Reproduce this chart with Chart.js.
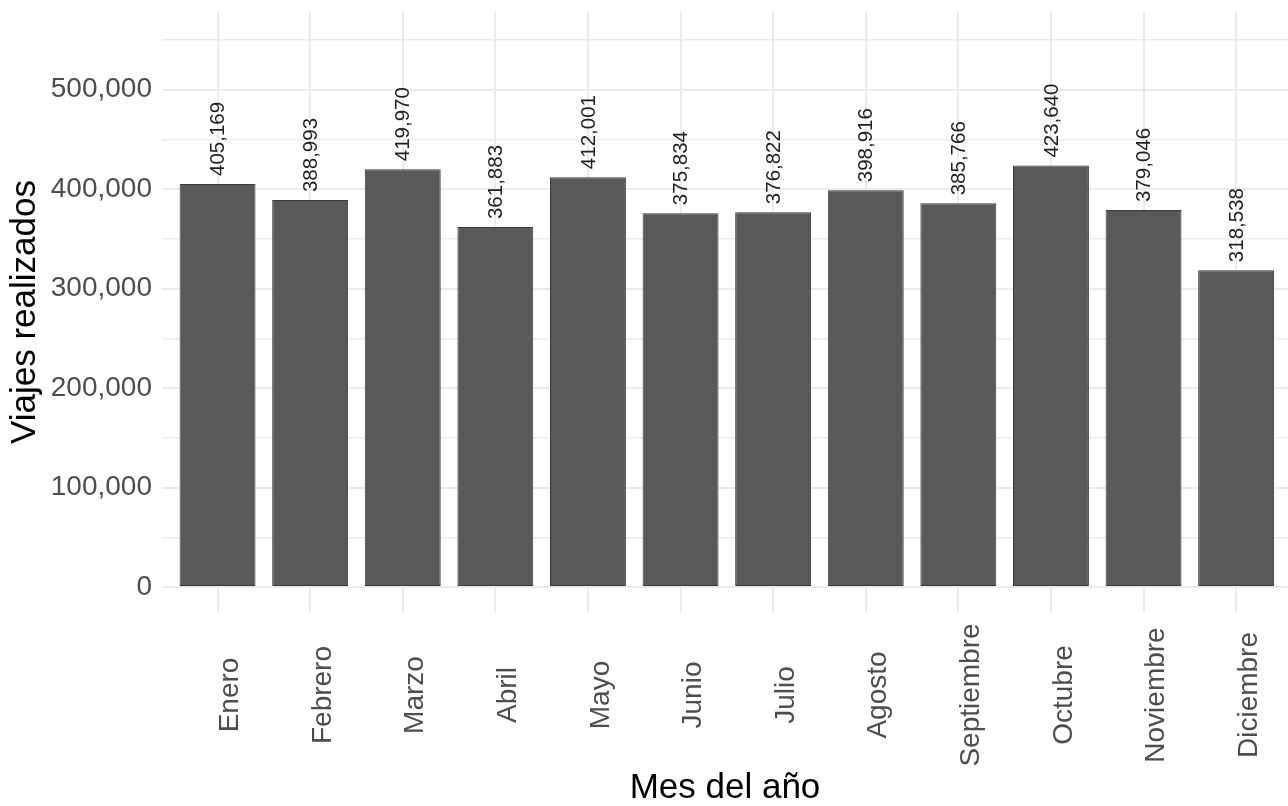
<!DOCTYPE html>
<html>
<head>
<meta charset="utf-8">
<script src="https://cdn.jsdelivr.net/npm/chart.js@4.4.1/dist/chart.umd.min.js"></script>
<style>
html,body{margin:0;padding:0;background:#fff;}
#wrap{width:1288px;height:806px;position:relative;}
</style>
</head>
<body>
<div id="wrap"><canvas id="c" width="1288" height="806"></canvas></div>
<script>
const months = ["Enero","Febrero","Marzo","Abril","Mayo","Junio","Julio","Agosto","Septiembre","Octubre","Noviembre","Diciembre"];
const trips = [405169, 388993, 419970, 361883, 412001, 375834, 376822, 398916, 385766, 423640, 379046, 318538];
const yTicks = [0, 50000, 100000, 150000, 200000, 250000, 300000, 350000, 400000, 450000, 500000, 550000];

const FONT = "'Liberation Sans', Arial, Helvetica, sans-serif";
const fmt = v => Number(v).toLocaleString('en-US');

const labelPlugin = {
  id: 'labels',
  afterDatasetsDraw(chart) {
    const ctx = chart.ctx;
    const meta = chart.getDatasetMeta(0);
    ctx.save();
    ctx.fillStyle = '#1f1f1f';
    ctx.font = '20.5px ' + FONT;
    ctx.textAlign = 'left';
    ctx.textBaseline = 'middle';
    meta.data.forEach((bar, i) => {
      ctx.save();
      ctx.translate(bar.x + 1, bar.y - 8);
      ctx.rotate(-Math.PI / 2);
      ctx.fillText(fmt(trips[i]), 0, 0);
      ctx.restore();
    });
    ctx.restore();
  },
  afterDraw(chart) {
    const ctx = chart.ctx;
    const xs = chart.scales.x;
    ctx.save();
    ctx.fillStyle = '#4d4d4d';
    ctx.font = '28px ' + FONT;
    ctx.textAlign = 'center';
    ctx.textBaseline = 'middle';
    months.forEach((m, i) => {
      ctx.save();
      ctx.translate(xs.getPixelForValue(i) + 13, 695);
      ctx.rotate(-Math.PI / 2);
      ctx.fillText(m, 0, 0);
      ctx.restore();
    });
    ctx.restore();
  }
};

new Chart(document.getElementById('c'), {
  type: 'bar',
  data: {
    datasets: [{
      data: trips.map((v, i) => ({x: i, y: v})),
      backgroundColor: '#595959',
      borderColor: '#3a3a3a',
      borderWidth: 1,
      borderSkipped: false,
      categoryPercentage: 1,
      barPercentage: 0.82
    }]
  },
  options: {
    responsive: false,
    animation: false,
    devicePixelRatio: 1,
    layout: {padding: {top: 12, right: 0, left: 0, bottom: 0}},
    plugins: {legend: {display: false}, tooltip: {enabled: false}},
    scales: {
      x: {
        type: 'linear',
        offset: false,
        min: -0.6,
        max: 11.56,
        afterBuildTicks: s => { s.ticks = months.map((_, i) => ({value: i})); },
        afterFit: s => { s.height = 194; s.paddingLeft = 0; s.paddingRight = 0; },
        border: {display: false},
        grid: {color: '#ebebeb', lineWidth: 2, drawTicks: false, offset: false},
        ticks: {display: false},
        title: {
          display: true,
          text: 'Mes del año',
          color: '#000',
          font: {family: FONT, size: 35, lineHeight: 1.0},
          padding: {top: 0, bottom: 0}
        }
      },
      y: {
        min: -25000,
        max: 578000,
        afterBuildTicks: s => { s.ticks = yTicks.map(v => ({value: v})); },
        afterFit: s => { s.width = 162; s.paddingTop = 0; s.paddingBottom = 0; },
        border: {display: false},
        grid: {
          color: '#ebebeb',
          lineWidth: c => (c.tick && c.tick.value % 100000 === 0) ? 2 : 1.4,
          drawTicks: false
        },
        ticks: {
          color: '#4d4d4d',
          font: {family: FONT, size: 28},
          padding: 10,
          callback: v => (v % 100000 === 0 ? fmt(v) : '')
        },
        title: {
          display: true,
          text: 'Viajes realizados',
          color: '#000',
          font: {family: FONT, size: 35, lineHeight: 1.2},
          padding: {top: 4, bottom: 0}
        }
      }
    }
  },
  plugins: [labelPlugin]
});
</script>
</body>
</html>
